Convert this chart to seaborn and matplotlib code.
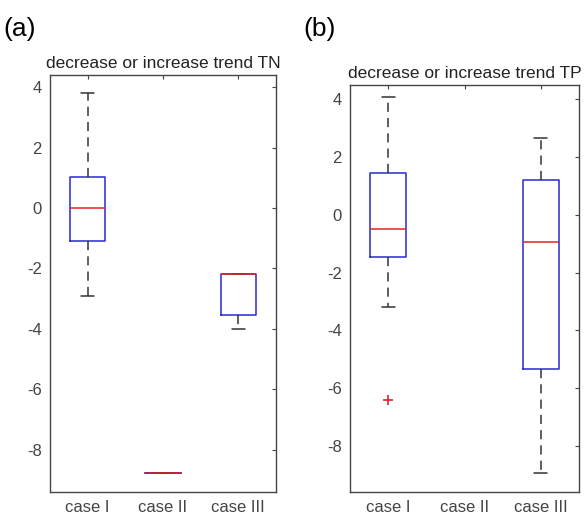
import matplotlib
matplotlib.use("Agg")
import matplotlib.pyplot as plt
import seaborn as sns
import pandas as pd

categories = ["case I", "case II", "case III"]

# five-number summaries (lower whisker, Q1, median, Q3, upper whisker)
tn_case1 = [-2.9, -1.1, 0.0, 1.03, 3.8]
tn_case2 = [-8.76]
tn_case3 = [-4.0, -3.55, -2.2, -2.2, -2.2]

tp_case1 = [-3.2, -1.45, -0.5, 1.45, 4.1]
tp_case3 = [-8.95, -5.35, -0.95, 1.2, 2.65]
tp_outlier_cat = ["case I"]
tp_outlier_val = [-6.4]

titles = ["decrease or increase trend TN", "decrease or increase trend TP"]
panel_labels = ["(a)", "(b)"]
yticks = [-8, -6, -4, -2, 0, 2, 4]

sns.set_style("white")
plt.rcParams["font.family"] = ["Liberation Sans", "DejaVu Sans"]
plt.rcParams["axes.unicode_minus"] = False

def frame(groups):
    rows = []
    for cat, vals in groups:
        for v in vals:
            rows.append({"case": cat, "value": v})
    return pd.DataFrame(rows)

df_tn = frame([("case I", tn_case1), ("case II", tn_case2), ("case III", tn_case3)])
df_tp = frame([("case I", tp_case1), ("case III", tp_case3)])
df_out = pd.DataFrame({"case": tp_outlier_cat, "value": tp_outlier_val})

fig = plt.figure(figsize=(5.84, 5.19), dpi=100)
ax1 = fig.add_axes([50/584, 27/519, 226/584, 417/519])
ax2 = fig.add_axes([350/584, 27/519, 229/584, 407/519])

dark = "#333333"
box_kw = dict(
    order=categories, width=0.47, whis=(0, 100), fill=False, linewidth=1.1,
    boxprops=dict(color="#2828d0"),
    medianprops=dict(color="#e82020", zorder=4),
    whiskerprops=dict(color=dark, linestyle=(0, (6, 4))),
    capprops=dict(color=dark),
    capwidths=0.17,
)

sns.boxplot(data=df_tn, x="case", y="value", ax=ax1, **box_kw)
sns.boxplot(data=df_tp, x="case", y="value", ax=ax2, **box_kw)
sns.scatterplot(data=df_out, x="case", y="value", ax=ax2, marker="+",
                color="#e02020", s=60, linewidth=1.2, zorder=5)

for ax, t, lab, ylim in [(ax1, titles[0], panel_labels[0], (-9.4, 4.4)),
                         (ax2, titles[1], panel_labels[1], (-9.6, 4.5))]:
    ax.set_xlim(-0.5, 2.5)
    ax.set_ylim(*ylim)
    ax.set_yticks(yticks)
    ax.set_xlabel("")
    ax.set_ylabel("")
    ax.set_title(t, fontsize=12.5, color="#222222", pad=5)
    ax.tick_params(direction="in", length=3, colors="#444444", labelsize=12,
                   top=True, right=True, labelcolor="#444444", pad=6)
    for s in ax.spines.values():
        s.set_color("#444444")
        s.set_linewidth(1.0)

fig.text(3/584, 1 - 36/519, panel_labels[0], fontsize=19, color="black")
fig.text(303/584, 1 - 36/519, panel_labels[1], fontsize=19, color="black")

fig.savefig("out.png", dpi=100)
